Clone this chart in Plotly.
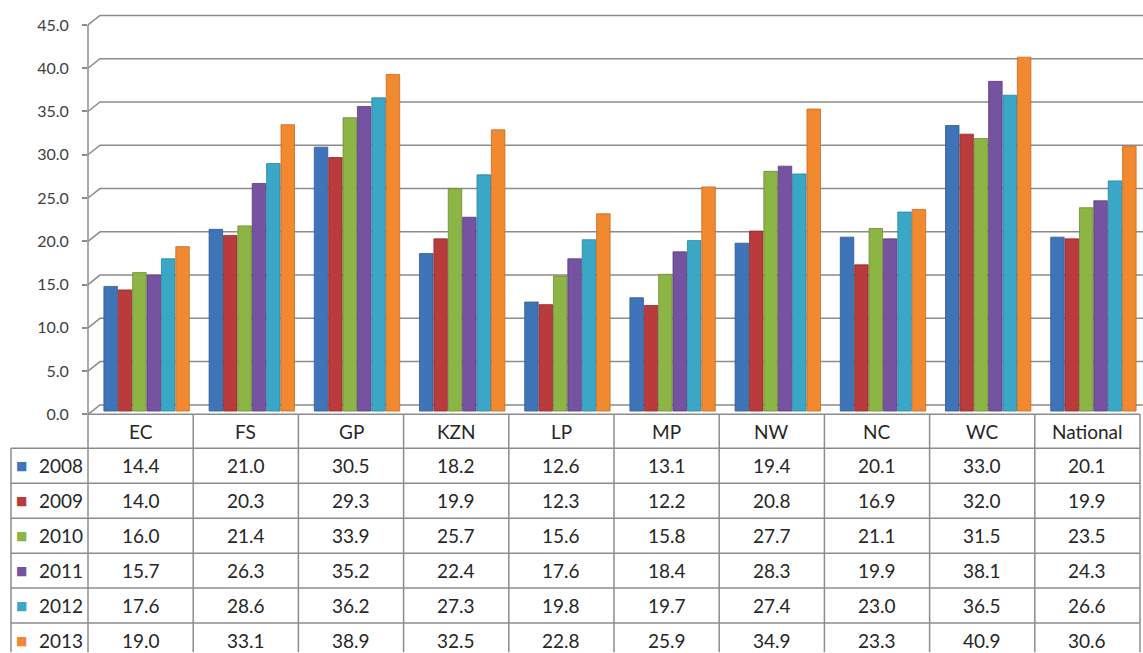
import plotly.graph_objects as go

# ---------------- data ----------------
categories = ["EC", "FS", "GP", "KZN", "LP", "MP", "NW", "NC", "WC", "National"]
years = ["2008", "2009", "2010", "2011", "2012", "2013"]
v2008 = [14.4, 21.0, 30.5, 18.2, 12.6, 13.1, 19.4, 20.1, 33.0, 20.1]
v2009 = [14.0, 20.3, 29.3, 19.9, 12.3, 12.2, 20.8, 16.9, 32.0, 19.9]
v2010 = [16.0, 21.4, 33.9, 25.7, 15.6, 15.8, 27.7, 21.1, 31.5, 23.5]
v2011 = [15.7, 26.3, 35.2, 22.4, 17.6, 18.4, 28.3, 19.9, 38.1, 24.3]
v2012 = [17.6, 28.6, 36.2, 27.3, 19.8, 19.7, 27.4, 23.0, 36.5, 26.6]
v2013 = [19.0, 33.1, 38.9, 32.5, 22.8, 25.9, 34.9, 23.3, 40.9, 30.6]
series = [v2008, v2009, v2010, v2011, v2012, v2013]
tick_values = [0, 5, 10, 15, 20, 25, 30, 35, 40, 45]
tick_labels = ["0.0", "5.0", "10.0", "15.0", "20.0", "25.0", "30.0", "35.0", "40.0", "45.0"]

colors = ["#3F74B9", "#BA3B3B", "#8CB546", "#7653A0", "#3BA7C7", "#F18930"]
line_colors = ["#2E5A93", "#8F2A2B", "#6B8C32", "#573C7C", "#2A83A0", "#C96A1D"]

# ---------------- layout constants (pixels of the picture) ----------------
W = 1143
REF_H = 653        # height of the picture
FIG_H = 661        # figure height (viewport shows slightly more than the picture)
AX = 88            # front axis x
RIGHT = 1140       # right edge of table
DX, DY = 12, 9.5   # 3-D depth offsets
FLOOR = 415        # front y of value 0
PPU = 390 / 45.0   # pixels per unit
TOP = 12
BAR_LIFT = 3.3     # bars sit a little behind the front edge
GRID = "#8C8C8C"
TXT = "#262626"
FONT = "Lato"

def px(x):
    return x / W

def py(y):
    return 1 - y / REF_H

n = len(categories)
col_w = (RIGHT - AX) / n
shift_px = 6
shift_u = shift_px / col_w

y2_top = (FLOOR - TOP) / PPU
y_low = -BAR_LIFT / PPU

fig = go.Figure()
for yr, vals, c, lc in zip(years, series, colors, line_colors):
    fig.add_trace(go.Bar(
        x=categories, y=vals, name=yr,
        marker=dict(color=c, line=dict(color=lc, width=0.8)),
        xaxis="x", yaxis="y", showlegend=False,
    ))

shapes = []
dyu = DY / PPU
for v in tick_values:
    shapes.append(dict(
        type="path", xref="paper", yref="y2",
        path=f"M {px(AX)},{v} L {px(AX + DX)},{v + dyu} L 1,{v + dyu}",
        line=dict(color=GRID, width=1.5), layer="below",
    ))
shapes.append(dict(type="line", xref="paper", yref="y2", x0=px(AX), x1=px(AX),
                   y0=0, y1=tick_values[-1], line=dict(color=GRID, width=1.5)))

# ---------------- data table ----------------
hdr_top = FLOOR
hdr_bot = 449
row_h = 35
LEG_L = 11
shapes.append(dict(type="line", xref="paper", yref="paper", x0=px(AX), x1=px(RIGHT),
                   y0=py(hdr_top), y1=py(hdr_top), line=dict(color=GRID, width=1.5)))
for k in range(n + 1):
    xk = px(AX + k * col_w)
    shapes.append(dict(type="line", xref="paper", yref="paper", x0=xk, x1=xk,
                       y0=py(hdr_top), y1=0, line=dict(color=GRID, width=1.5)))
shapes.append(dict(type="line", xref="paper", yref="paper", x0=px(LEG_L), x1=px(LEG_L),
                   y0=py(hdr_bot), y1=0, line=dict(color=GRID, width=1.5)))
for r in range(len(years) + 1):
    ypx = hdr_bot + r * row_h
    if ypx > REF_H - 1:
        continue  # bottom border falls outside the picture
    yy = py(ypx)
    shapes.append(dict(type="line", xref="paper", yref="paper", x0=px(LEG_L), x1=px(RIGHT),
                       y0=yy, y1=yy, line=dict(color=GRID, width=1.5)))

annotations = []
for cat in categories:
    annotations.append(dict(x=cat, xref="x", xshift=-shift_px, xanchor="center",
                            y=py((hdr_top + hdr_bot) / 2), yref="paper", yanchor="middle",
                            text=cat, showarrow=False,
                            font=dict(family=FONT, size=19, color=TXT)))
for r, (yr, vals, c) in enumerate(zip(years, series, colors)):
    yc = py(hdr_bot + r * row_h + row_h / 2)
    for cat, v in zip(categories, vals):
        annotations.append(dict(x=cat, xref="x", xshift=-shift_px, xanchor="center",
                                y=yc, yref="paper", yanchor="middle",
                                text=f"{v:.1f}", showarrow=False,
                                font=dict(family=FONT, size=19, color=TXT)))
    annotations.append(dict(x=px(21), xref="paper", xanchor="center", y=yc, yref="paper",
                            yanchor="middle", text="■", showarrow=False,
                            font=dict(family="DejaVu Sans", size=12, color=c)))
    annotations.append(dict(x=px(37), xref="paper", xanchor="left", y=yc, yref="paper",
                            yanchor="middle", text=yr, showarrow=False,
                            font=dict(family=FONT, size=19, color=TXT)))

fig.update_layout(
    width=W, height=FIG_H,
    margin=dict(l=0, r=0, t=0, b=0),
    paper_bgcolor="white", plot_bgcolor="rgba(0,0,0,0)",
    barmode="group", bargap=0.18, bargroupgap=0.06,
    xaxis=dict(domain=[px(AX), px(RIGHT)], type="category",
               range=[-0.5 - shift_u, n - 0.5 - shift_u],
               visible=False, fixedrange=True),
    yaxis=dict(domain=[py(FLOOR), py(TOP)], range=[y_low, y2_top + y_low],
               visible=False, fixedrange=True),
    yaxis2=dict(overlaying="y", anchor="x", side="left", range=[0, y2_top],
                tickmode="array", tickvals=tick_values, ticktext=tick_labels,
                ticks="outside", ticklen=5, tickwidth=1.5, tickcolor=GRID,
                showline=False, showgrid=False, zeroline=False,
                ticklabelstandoff=10,
                tickfont=dict(family=FONT, size=16, color="#404040"), fixedrange=True),
    shapes=shapes,
    annotations=annotations,
)

page_css = (
    "var de=document.documentElement, b=document.body;"
    "de.style.margin='0'; de.style.padding='0'; de.style.overflow='hidden';"
    "b.style.margin='0'; b.style.padding='0'; b.style.overflow='hidden';"
)
fig.write_html("out.html", config={"displayModeBar": False}, post_script=page_css)
